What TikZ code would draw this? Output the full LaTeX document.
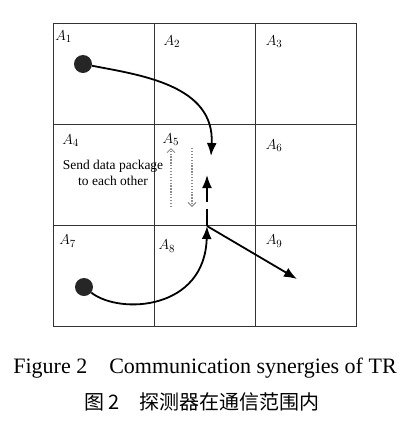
\documentclass[tikz,border=0pt]{standalone}
\usepackage{fontspec}
\setmainfont{Liberation Serif}
\newfontfamily\cjkfont{Noto Sans CJK SC}
\usepackage{tikz}
\usetikzlibrary{arrows.meta,positioning}
\tikzstyle{cellbox} = [rectangle, draw=black!80, line width=0.9pt,
    minimum size=101.3pt, inner sep=0pt]
\tikzstyle{line} = [draw, line width=1.8pt, -{Latex[length=13pt,width=10pt]}]
\tikzstyle{robot} = [circle, fill=black!85, minimum size=18pt, inner sep=0pt]
\tikzstyle{packet} = [draw=black!45, line width=1.2pt, dash pattern=on 1.3pt off 1.6pt,
    -{Straight Barb[length=4pt,width=8pt,line width=1pt]}]
\tikzset{
    every node/.style={font=\fontsize{13.5}{16}\selectfont},
    cellname/.style={font=\fontsize{15}{16}\selectfont, inner sep=0pt}
}

\begin{document}
\begin{tikzpicture}[x=1pt,y=-1pt]
            \useasboundingbox (0,0) rectangle (412,424);
            % Grid of areas
            \foreach \r in {0,1,2}
              \foreach \c in {0,1,2} {
                \pgfmathtruncatemacro\n{3*\r+\c+1}
                \node [cellbox] (cell\n) at ({53+101.3*(\c+0.5)},{23+101.3*(\r+0.5)}) {};
              }
            
            % Area names
            \node [cellname] (a1) at ([shift={(11,14)}]cell1.north west) {$A_1$};
            \node [cellname] (a2) at ([shift={(18,19)}]cell2.north west) {$A_2$};
            \node [cellname] (a3) at ([shift={(19,19)}]cell3.north west) {$A_3$};
            \node [cellname] (a4) at ([shift={(18,17)}]cell4.north west) {$A_4$};
            \node [cellname] (a5) at ([shift={(17,16)}]cell5.north west) {$A_5$};
            \node [cellname] (a6) at ([shift={(19,22)}]cell6.north west) {$A_6$};
            \node [cellname] (a7) at ([shift={(15,16)}]cell7.north west) {$A_7$};
            \node [cellname] (a8) at ([shift={(13,21)}]cell8.north west) {$A_8$};
            \node [cellname] (a9) at ([shift={(19,16)}]cell9.north west) {$A_9$};
            
            % Detectors
            \node [robot] (robotA) at (83,64) {};
            \node [robot] (robotB) at (84,287) {};
            \coordinate (stopA) at (211,156);
            \coordinate (meet) at (207,226);
            \coordinate (upend) at (207,175);
            \coordinate (outend) at (297,279);
            
            % Paths
            \path [line] (robotA) .. controls (140,75) and (215,85) .. (stopA);
            \path [line] (robotB) .. controls (120,315) and (205,310) .. (meet);
            \path [line, dash pattern=on 17pt off 7pt] (meet) -- (upend);
            \path [line] (meet) -- (outend);
            
            % Data exchange
            \coordinate (sendlo) at (171,207);
            \coordinate (sendhi) at (171,148);
            \coordinate (recvhi) at (192,148);
            \coordinate (recvlo) at (192,207);
            \path [packet] (sendlo) -- (sendhi);
            \path [packet] (recvhi) -- (recvlo);
            \node [align=center, inner sep=0pt] (msg) at (113,173)
                {Send data package\\to each other};
            
            % Caption
            \node [font=\fontsize{22}{24}\selectfont] (capen) at (205,368)
                {Figure 2\quad Communication synergies of TR};
            \node [font=\cjkfont\fontsize{20}{22}\selectfont] (capcn) at (202,402)
                {图 2\quad 探测器在通信范围内};
        \end{tikzpicture}
\end{document}
